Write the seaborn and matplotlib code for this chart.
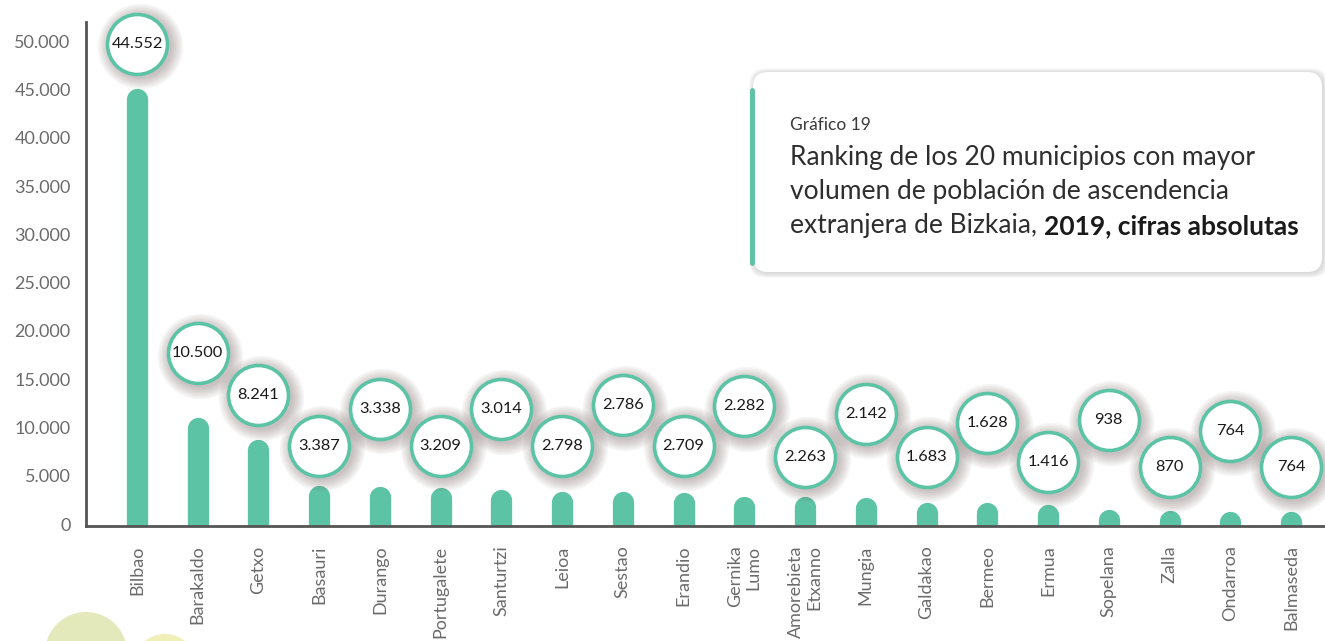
import matplotlib
matplotlib.use("Agg")
import matplotlib.pyplot as plt
import matplotlib.transforms as mtransforms
from matplotlib.patches import FancyBboxPatch, Circle
import seaborn as sns

# datos
municipios = ["Bilbao", "Barakaldo", "Getxo", "Basauri", "Durango", "Portugalete",
              "Santurtzi", "Leioa", "Sestao", "Erandio", "Gernika\nLumo",
              "Amorebieta\nEtxanno", "Mungia", "Galdakao", "Bermeo", "Ermua",
              "Sopelana", "Zalla", "Ondarroa", "Balmaseda"]
poblacion = [44552, 10500, 8241, 3387, 3338, 3209, 3014, 2798, 2786, 2709,
             2282, 2263, 2142, 1683, 1628, 1416, 938, 870, 764, 764]
y_ticks = [0, 5000, 10000, 15000, 20000, 25000, 30000, 35000, 40000, 45000, 50000]

# layout: how far each label bubble sits above its bar (data units)
subida_burbuja = [5200, 7200, 5100, 4700, 8600, 4900, 8900, 5300, 9500, 5400,
                  9900, 4700, 9300, 5300, 8800, 5000, 9800, 5000, 8900, 5100]

TEAL = "#5cc3a5"
GRIS = "#6b6b6b"
W, H = 1325, 641


def miles(v):
    return f"{v:,}".replace(",", ".")


sns.set_style("white")
plt.rcParams['font.family'] = ['Lato', 'DejaVu Sans']

fig = plt.figure(figsize=(W / 100, H / 100), dpi=100)

# background layer in pixel coords (decoration + title box)
bg = fig.add_axes([0, 0, 1, 1], zorder=0)
bg.set_xlim(0, W)
bg.set_ylim(H, 0)
bg.axis('off')

bg.add_patch(Circle((86, 653), 41, color="#e3e9ba", lw=0))
bg.add_patch(Circle((165, 666), 32, color="#f0efb8", lw=0))

# title box with soft shadow
bx0, by0, bx1, by1 = 753, 72, 1322, 272
for k in range(8, 0, -1):
    bg.add_patch(FancyBboxPatch((bx0 - k * 0.6 + 1, by0 - k * 0.6 + 1),
                                bx1 - bx0 + k * 1.2, by1 - by0 + k * 1.2,
                                boxstyle="round,pad=0,rounding_size=16",
                                fc="#7a7a7a", ec="none", alpha=0.035))
bg.add_patch(FancyBboxPatch((bx0, by0), bx1 - bx0, by1 - by0,
                            boxstyle="round,pad=0,rounding_size=15",
                            fc="white", ec="none"))
bg.plot([751.5, 751.5], [90, 263], color=TEAL, lw=3.5, solid_capstyle='round')

bg.text(790, 125, "Gráfico 19", fontsize=12.5, color="#3a3a3a", va='center')
lineas = ["Ranking de los 20 municipios con mayor",
          "volumen de población de ascendencia"]
for i, t in enumerate(lineas):
    bg.text(790, 158 + i * 34, t, fontsize=19, color="#2e2e2e", va='center')
t3 = bg.text(790, 226, "extranjera de Bizkaia, ", fontsize=19, color="#2e2e2e",
             va='center')
bg.annotate("2019, cifras absolutas", xy=(1, 0.5), xycoords=t3, va='center',
            fontsize=19, fontweight='bold', color="#1a1a1a")

# main chart
ax = fig.add_axes([86 / W, (H - 526) / H, (W - 86) / W, (526 - 22) / H], zorder=1)
ax.patch.set_alpha(0)

sns.barplot(x=municipios, y=poblacion, color=TEAL, saturation=1, width=0.35,
            linewidth=0, ax=ax, zorder=2)
# swap the seaborn rectangles for rounded-top strokes of the same width,
# nudged down so the round cap mostly sits inside the value
bar_tr = mtransforms.offset_copy(ax.transData, fig=fig, x=0, y=-5, units='dots')
for p in ax.patches:
    p.set_visible(False)
    xc = p.get_x() + p.get_width() / 2
    ax.plot([xc, xc], [0, p.get_height()], color=TEAL, lw=21.3 * 0.72,
            solid_capstyle='round', zorder=2, transform=bar_tr)

xs = list(range(len(poblacion)))
ybub = [v + s for v, s in zip(poblacion, subida_burbuja)]
d = 60 * 0.72
for k in range(1, 8):
    tr = mtransforms.offset_copy(ax.transData, fig=fig, x=2.5, y=-2.5, units='dots')
    ax.scatter(xs, ybub, s=(d + k * 2.6) ** 2, color="#6e5858", alpha=0.06,
               lw=0, zorder=4, clip_on=False, transform=tr)
ax.scatter(xs, ybub, s=d ** 2, facecolor='white', edgecolor=TEAL, linewidth=2.6,
           zorder=5, clip_on=False)
for x, y, v in zip(xs, ybub, poblacion):
    ax.text(x, y, miles(v), ha='center', va='center', fontsize=11.8,
            color="#1a1a1a", zorder=6)

ax.set_xlim(-0.84, 19.56)
ax.set_ylim(-200, 52000)
ax.set_yticks(y_ticks)
ax.set_yticklabels([miles(v) for v in y_ticks], fontsize=13, color=GRIS)
ax.set_xticks(xs)
ax.set_xticklabels(municipios, rotation=90, fontsize=13, color=GRIS,
                   va='top', ha='center', multialignment='right')
ax.tick_params(axis='y', length=0, pad=11)
ax.tick_params(axis='x', length=0, pad=14)
ax.set_xlabel("")
ax.set_ylabel("")
sns.despine(ax=ax)
for s in ['left', 'bottom']:
    ax.spines[s].set_color("#555555")
    ax.spines[s].set_linewidth(2)

fig.savefig("out.png", dpi=100)
